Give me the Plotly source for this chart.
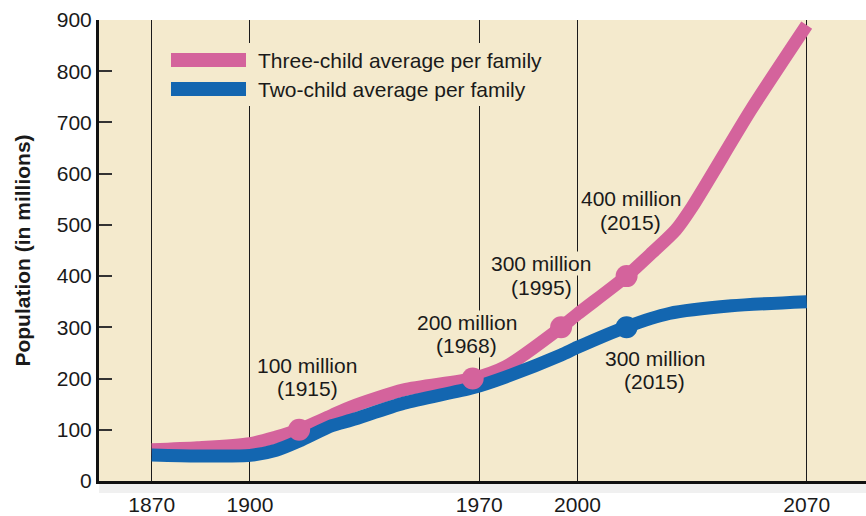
import plotly.graph_objects as go

# ---------------- data ----------------
tick_years = [1870, 1900, 1970, 2000, 2070]
y_ticks = [0, 100, 200, 300, 400, 500, 600, 700, 800, 900]

series_names = ["Three-child average per family", "Two-child average per family"]

years_three = [1870, 1884, 1900, 1908, 1915, 1925, 1931, 1947, 1968, 1978, 1995, 2000,
               2015, 2023, 2030, 2035, 2053, 2070]
pop_three = [61, 65, 73, 86, 100, 128, 145, 178, 200, 223, 300, 326,
             400, 447, 490, 535, 725, 890]

years_two = [1870, 1884, 1900, 1908, 1915, 1925, 1931, 1947, 1968, 1978, 1995, 2000,
             2015, 2028, 2047, 2070]
pop_two = [51, 49, 50, 60, 78, 108, 119, 152, 182, 203, 246, 261,
           301, 327, 342, 350]

milestone_years_three = [1915, 1968, 1995, 2015]
milestone_pop_three = [100, 200, 300, 400]
milestone_years_two = [2015]
milestone_pop_two = [300]

# ---------------- style ----------------
PINK = "#D4639C"
BLUE = "#1366B0"
BG = "#F4EACD"
INK = "#1a1a1a"
FONT = "Liberation Sans, Arial, Helvetica, sans-serif"
FS = 21

# label offsets in pixels (xshift, yshift line1, yshift line2)
offs_three = [(8, 64, 41), (-6, 56, 33), (-20, 64, 40), (4, 78, 54)]
offs_two = [(28, -31, -54)]

fig = go.Figure()

fig.add_trace(go.Scatter(
    x=years_three, y=pop_three, mode="lines", name=series_names[0],
    line=dict(color=PINK, width=13, shape="spline", smoothing=0.7),
    showlegend=False, hoverinfo="skip"))
fig.add_trace(go.Scatter(
    x=years_two, y=pop_two, mode="lines", name=series_names[1],
    line=dict(color=BLUE, width=13, shape="spline", smoothing=0.7),
    showlegend=False, hoverinfo="skip"))
fig.add_trace(go.Scatter(
    x=milestone_years_three, y=milestone_pop_three, mode="markers",
    marker=dict(color=PINK, size=22, line=dict(width=0)),
    showlegend=False, hoverinfo="skip"))
fig.add_trace(go.Scatter(
    x=milestone_years_two, y=milestone_pop_two, mode="markers",
    marker=dict(color=BLUE, size=22, line=dict(width=0)),
    showlegend=False, hoverinfo="skip"))

annotations = []
def add_labels(yrs, vals, offs):
    for yr, v, (xs, ys1, ys2) in zip(yrs, vals, offs):
        for txt, ys in ((f"{v} million", ys1), (f"({yr})", ys2)):
            annotations.append(dict(
                x=yr, y=v, xref="x", yref="y", text=txt, showarrow=False,
                xshift=xs, yshift=ys, bgcolor=BG, borderpad=0,
                font=dict(family=FONT, size=FS, color=INK)))

add_labels(milestone_years_three, milestone_pop_three, offs_three)
add_labels(milestone_years_two, milestone_pop_two, offs_two)

# manual legend (wide swatches)
W, H, L, T, B = 866, 516, 99, 20, 35
pw, ph = W - L, H - T - B
def px(x):
    return (x - L) / pw
def py(y):
    return (H - B - y) / ph

shapes = [
    dict(type="rect", xref="paper", yref="paper", x0=0, x1=1, y0=-0.026, y1=-0.004,
         fillcolor="rgba(0,0,0,0.06)", line=dict(width=0), layer="below"),
    dict(type="rect", xref="paper", yref="paper", x0=px(163), x1=px(560),
         y0=py(106), y1=py(43), fillcolor=BG, line=dict(width=0), layer="above"),
    dict(type="rect", xref="paper", yref="paper", x0=px(171), x1=px(246),
         y0=py(67), y1=py(53), fillcolor=PINK, line=dict(width=0), layer="above"),
    dict(type="rect", xref="paper", yref="paper", x0=px(171), x1=px(246),
         y0=py(96), y1=py(82), fillcolor=BLUE, line=dict(width=0), layer="above"),
]
for name, yc in zip(series_names, (60, 89)):
    annotations.append(dict(
        x=px(256), y=py(yc), xref="paper", yref="paper", text=name,
        showarrow=False, xanchor="left", yanchor="middle",
        font=dict(family=FONT, size=FS, color=INK)))

fig.update_layout(
    width=W, height=H,
    margin=dict(l=L, r=0, t=T, b=B),
    paper_bgcolor="white", plot_bgcolor=BG,
    font=dict(family=FONT, size=FS, color=INK),
    showlegend=False,
    annotations=annotations,
    shapes=shapes,
)
fig.update_xaxes(
    range=[1853.9, 2088.1], tickmode="array", tickvals=tick_years,
    ticktext=[str(y) for y in tick_years], automargin=False,
    showgrid=True, gridcolor="#1a1a1a", gridwidth=1.2,
    ticks="outside", ticklen=3, tickcolor="rgba(0,0,0,0)",
    showline=True, linecolor="#111111", linewidth=3, zeroline=False,
    tickfont=dict(family=FONT, size=FS, color=INK), fixedrange=True)
fig.update_yaxes(
    range=[0, 900], tickmode="array", tickvals=y_ticks, automargin=False,
    ticks="inside", ticklen=13, tickwidth=2, tickcolor="#333333",
    showline=True, linecolor="#111111", linewidth=3,
    showgrid=False, zeroline=False,
    tickfont=dict(family=FONT, size=FS, color=INK),
    title=dict(text="<b>Population (in millions)</b>", standoff=21,
               font=dict(family=FONT, size=FS, color=INK)),
    fixedrange=True)

fig.write_html(
    "out.html",
    config={"displayModeBar": False},
    post_script="document.body.style.margin='0';document.body.style.padding='0';"
                "document.body.style.overflow='hidden';",
)
